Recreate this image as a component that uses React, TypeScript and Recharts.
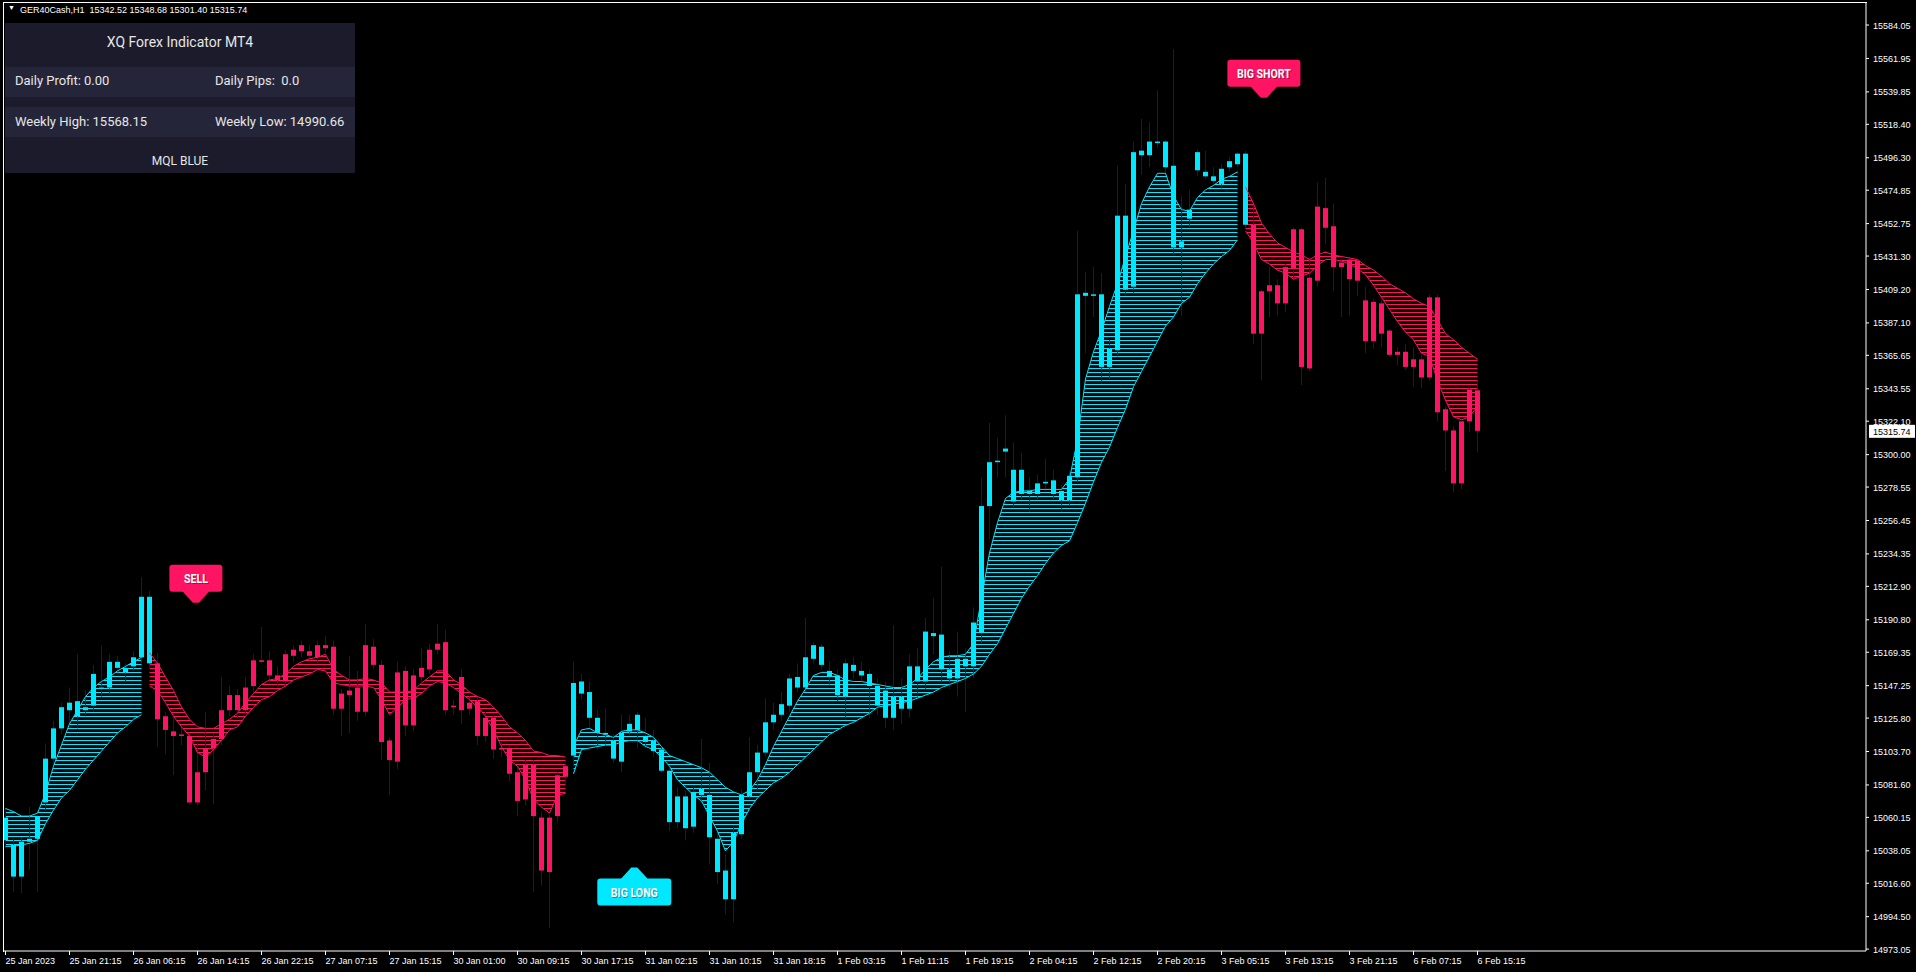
import React from 'react'
import { Area, Bar, ComposedChart, Line, ReferenceDot, ReferenceLine, XAxis, YAxis } from 'recharts'

// GER40Cash H1 candles, bar 0 = 25 Jan 2023, one bar per hour
const opens = [
  15060, 15042, 15021, 15044, 15046, 15070, 15099, 15119, 15131, 15137,
  15131, 15134, 15146, 15146, 15163, 15159, 15160, 15166, 15206, 15162,
  15127, 15117, 15115, 15114, 15070, 15090, 15106, 15112, 15131, 15141,
  15131, 15147, 15164, 15164, 15154, 15150, 15167, 15170, 15170, 15166,
  15174, 15173, 15132, 15144, 15130, 15130, 15173, 15161, 15111, 15097,
  15157, 15121, 15153, 15158, 15171, 15176, 15133, 15131, 15132, 15137,
  15114, 15126, 15106, 15106, 15090, 15072, 15095, 15060, 15024, 15061,
  15087, 15101, 15150, 15143, 15126, 15116, 15111, 15097, 15117, 15118,
  15114, 15111, 15105, 15091, 15057, 15074, 15054, 15079, 15075, 15046,
  15025, 15006, 15049, 15074, 15090, 15103, 15123, 15128, 15134, 15153,
  15146, 15165, 15173, 15157, 15154, 15140, 15161, 15157, 15155, 15147,
  15144, 15126, 15140, 15132, 15160, 15150, 15182, 15181, 15158, 15152,
  15165, 15160, 15182, 15266, 15295, 15302, 15290, 15274, 15276, 15274,
  15281, 15283, 15276, 15270, 15285, 15405, 15406, 15406, 15358, 15369,
  15458, 15411, 15501, 15498, 15507, 15507, 15491, 15437, 15456, 15488,
  15487, 15484, 15479, 15490, 15492, 15499, 15452, 15380, 15408, 15412,
  15400, 15423, 15449, 15357, 15415, 15463, 15451, 15424, 15429, 15415,
  15402, 15375, 15400, 15382, 15366, 15368, 15358, 15363, 15351, 15404,
  15330, 15316, 15281, 15322, 15342.52,
]
const highs = [
  15066, 15046, 15047, 15067, 15064, 15109, 15124, 15136, 15146, 15168,
  15144, 15161, 15174, 15168, 15167, 15162, 15170, 15219, 15210, 15169,
  15130, 15127, 15120, 15116, 15110, 15130, 15116, 15153, 15147, 15145,
  15153, 15168, 15186, 15170, 15160, 15171, 15174, 15177, 15174, 15177,
  15180, 15177, 15145, 15167, 15157, 15188, 15178, 15164, 15113, 15163,
  15160, 15158, 15172, 15175, 15188, 15184, 15138, 15158, 15140, 15140,
  15130, 15129, 15110, 15108, 15094, 15098, 15098, 15064, 15062, 15090,
  15096, 15163, 15155, 15150, 15131, 15132, 15115, 15128, 15128, 15130,
  15126, 15118, 15107, 15093, 15080, 15078, 15080, 15112, 15096, 15050,
  15036, 15055, 15079, 15113, 15108, 15139, 15136, 15143, 15155, 15162,
  15192, 15176, 15175, 15163, 15158, 15165, 15166, 15163, 15158, 15152,
  15150, 15187, 15152, 15168, 15172, 15192, 15205, 15226, 15170, 15183,
  15172, 15199, 15285, 15321, 15311, 15326, 15308, 15301, 15285, 15287,
  15297, 15290, 15280, 15289, 15448, 15421, 15424, 15420, 15376, 15491,
  15479, 15507, 15522, 15520, 15541, 15508, 15568.15, 15471, 15475, 15502,
  15501, 15490, 15492, 15497, 15500, 15501, 15465, 15409, 15424, 15416,
  15426, 15450, 15450, 15430, 15480, 15483, 15466, 15430, 15431, 15429,
  15411, 15403, 15402, 15383, 15371, 15373, 15371, 15366, 15406, 15406,
  15332, 15319, 15322, 15345, 15348.68,
]
const lows = [
  15040, 15011, 15010, 15026, 15011, 15065, 15095, 15115, 15121, 15119,
  15127, 15130, 15140, 15141, 15156, 15150, 15157, 15162, 15158, 15107,
  15102, 15088, 15108, 15069, 15068, 15078, 15069, 15108, 15127, 15126,
  15128, 15142, 15162, 15150, 15146, 15146, 15163, 15166, 15164, 15162,
  15169, 15128, 15114, 15116, 15124, 15127, 15158, 15098, 15075, 15092,
  15114, 15117, 15150, 15155, 15168, 15128, 15128, 15122, 15128, 15108,
  15110, 15099, 15100, 15084, 15061, 15068, 15011, 15015, 14987, 15057,
  15082, 15094, 15138, 15120, 15105, 15108, 15096, 15090, 15114, 15106,
  15106, 15100, 15090, 15051, 15053, 15045, 15050, 15070, 15029, 15016,
  14996, 14991, 15046, 15072, 15078, 15100, 15118, 15124, 15130, 15143,
  15143, 15162, 15158, 15148, 15137, 15125, 15152, 15150, 15126, 15128,
  15119, 15118, 15122, 15126, 15140, 15145, 15168, 15150, 15145, 15140,
  15130, 15152, 15175, 15244, 15285, 15285, 15265, 15270, 15262, 15270,
  15276, 15270, 15262, 15266, 15282, 15367, 15391, 15347, 15350, 15365,
  15405, 15406, 15485, 15490, 15503, 15485, 15432, 15392, 15450, 15484,
  15482, 15478, 15476, 15487, 15490, 15450, 15373, 15349, 15391, 15392,
  15394, 15416, 15346, 15355, 15411, 15439, 15408, 15391, 15392, 15405,
  15367, 15370, 15371, 15365, 15359, 15356, 15345, 15344, 15349, 15322,
  15289, 15275, 15277, 15315, 15301.4,
]
const closes = [
  15045, 15021, 15044, 15046, 15061, 15099, 15119, 15133, 15136, 15127,
  15133, 15155, 15145, 15163, 15159, 15156, 15166, 15206, 15162, 15125,
  15118, 15114, 15114, 15070, 15090, 15106, 15112, 15131, 15141, 15131,
  15146, 15164, 15163, 15154, 15151, 15168, 15171, 15174, 15167, 15174,
  15172, 15132, 15142, 15141, 15146, 15174, 15161, 15110, 15098, 15156,
  15121, 15154, 15159, 15171, 15175, 15131, 15134, 15153, 15136, 15114,
  15126, 15105, 15105, 15089, 15071, 15095, 15061, 15025, 15060, 15088,
  15094, 15149, 15142, 15126, 15116, 15115, 15099, 15116, 15122, 15128,
  15110, 15104, 15091, 15057, 15074, 15053, 15077, 15075, 15047, 15024,
  15006, 15050, 15075, 15090, 15103, 15123, 15128, 15135, 15152, 15146,
  15166, 15174, 15161, 15153, 15141, 15162, 15157, 15154, 15147, 15134,
  15126, 15140, 15132, 15160, 15150, 15183, 15180, 15158, 15152, 15165,
  15160, 15189, 15266, 15295, 15296, 15304, 15269, 15290, 15274, 15281,
  15282, 15274, 15270, 15286, 15406, 15407, 15405, 15358, 15370, 15458,
  15409, 15500, 15498, 15507, 15506, 15490, 15437, 15441, 15462, 15500,
  15484, 15481, 15489, 15494, 15499, 15452, 15380, 15408, 15412, 15400,
  15424, 15449, 15358, 15417, 15464, 15450, 15424, 15427, 15416, 15428,
  15375, 15401, 15380, 15366, 15368, 15358, 15363, 15351, 15404, 15328,
  15316, 15281, 15322, 15343, 15315.74,
]

// ribbon envelope (outermost MA lines) read per bar
const ribbonHi = [
  15066, 15064, 15061, 15061, 15063, 15076, 15094, 15108, 15122, 15131,
  15140, 15146, 15150, 15153, 15157, 15160, 15163, 15166, 15169, 15162,
  15153, 15144, 15133, 15125, 15120, 15119, 15119, 15122, 15125, 15129,
  15136, 15142, 15148, 15151, 15152, 15155, 15160, 15163, 15165, 15166,
  15168, 15158, 15154, 15151, 15151, 15152, 15151, 15149, 15143, 15143,
  15143, 15144, 15149, 15153, 15157, 15157, 15151, 15148, 15143, 15140,
  15138, 15133, 15127, 15120, 15116, 15111, 15104, 15103, 15101, 15101,
  15100, 15107, 15118, 15119, 15116, 15115, 15113, 15117, 15118, 15118,
  15116, 15113, 15107, 15101, 15099, 15097, 15095, 15093, 15090, 15085,
  15080, 15077, 15075, 15078, 15085, 15095, 15107, 15117, 15127, 15137,
  15145, 15154, 15156, 15156, 15154, 15151, 15150, 15150, 15149, 15148,
  15147, 15146, 15146, 15148, 15152, 15158, 15163, 15166, 15167, 15167,
  15168, 15175, 15205, 15235, 15255, 15271, 15275, 15276, 15276, 15277,
  15277, 15277, 15277, 15284, 15310, 15350, 15368, 15382, 15398, 15413,
  15431, 15448, 15466, 15477, 15486, 15486, 15471, 15462, 15461, 15470,
  15475, 15478, 15482, 15484, 15487, 15477, 15466, 15453, 15446, 15440,
  15437, 15434, 15432, 15429, 15432, 15434, 15432, 15431, 15430, 15429,
  15425, 15422, 15418, 15413, 15410, 15407, 15403, 15400, 15398, 15389,
  15380, 15376, 15371, 15367, 15363,
]
const ribbonLo = [
  15041, 15041, 15042, 15043, 15045, 15056, 15065, 15073, 15078, 15085,
  15092, 15098, 15104, 15110, 15116, 15120, 15125, 15128, 15147, 15144,
  15136, 15127, 15120, 15114, 15103, 15100, 15105, 15111, 15118, 15120,
  15127, 15133, 15138, 15140, 15144, 15147, 15151, 15153, 15155, 15158,
  15157, 15149, 15148, 15147, 15147, 15147, 15146, 15138, 15128, 15133,
  15138, 15139, 15142, 15147, 15150, 15149, 15146, 15142, 15138, 15133,
  15127, 15118, 15107, 15098, 15094, 15085, 15072, 15067, 15063, 15075,
  15076, 15089, 15105, 15106, 15107, 15108, 15108, 15110, 15111, 15111,
  15107, 15105, 15100, 15094, 15085, 15080, 15075, 15071, 15061, 15051,
  15038, 15044, 15056, 15066, 15073, 15078, 15083, 15086, 15090, 15095,
  15100, 15105, 15110, 15115, 15118, 15121, 15123, 15126, 15129, 15133,
  15134, 15135, 15136, 15137, 15139, 15141, 15143, 15146, 15148, 15150,
  15152, 15155, 15160, 15168, 15175, 15185, 15195, 15205, 15213, 15220,
  15228, 15235, 15240, 15243, 15255, 15268, 15282, 15295, 15305, 15318,
  15330, 15345, 15355, 15365, 15375, 15385, 15391, 15400, 15404, 15413,
  15420, 15426, 15431, 15435, 15442, 15448, 15440, 15429, 15426, 15422,
  15420, 15416, 15418, 15420, 15425, 15429, 15429, 15428, 15426, 15423,
  15419, 15412, 15404, 15396, 15388, 15381, 15376, 15367, 15365, 15349,
  15336, 15325, 15323, 15325, 15332,
]

// trend segments: first bar of each segment
const trendDirs = ['up', 'down', 'up', 'down']
const candleTrendStarts = [0, 19, 71, 156]
const ribbonTrendStarts = [0, 18, 71, 155]

const timeTicks = [0, 8, 16, 24, 32, 40, 48, 56, 64, 72, 80, 88, 96, 104, 112, 120, 128, 136, 144, 152, 160, 168, 176, 184]
const timeLabels = [
  '25 Jan 2023', '25 Jan 21:15', '26 Jan 06:15', '26 Jan 14:15', '26 Jan 22:15', '27 Jan 07:15',
  '27 Jan 15:15', '30 Jan 01:00', '30 Jan 09:15', '30 Jan 17:15', '31 Jan 02:15', '31 Jan 10:15',
  '31 Jan 18:15', '1 Feb 03:15', '1 Feb 11:15', '1 Feb 19:15', '2 Feb 04:15', '2 Feb 12:15',
  '2 Feb 20:15', '3 Feb 05:15', '3 Feb 13:15', '3 Feb 21:15', '6 Feb 07:15', '6 Feb 15:15',
]
const priceTicks = [
  '15584.05', '15561.95', '15539.85', '15518.40', '15496.30', '15474.85', '15452.75', '15431.30',
  '15409.20', '15387.10', '15365.65', '15343.55', '15322.10', '15300.00', '15278.55', '15256.45',
  '15234.35', '15212.90', '15190.80', '15169.35', '15147.25', '15125.80', '15103.70', '15081.60',
  '15060.15', '15038.05', '15016.60', '14994.50', '14973.05',
]

const signalText = ['SELL', 'BIG LONG', 'BIG SHORT']
const signalBar = [23.8, 78.6, 157.3]
const signalPrice = [15202, 15027, 15536]
const signalDir = ['down', 'up', 'down']

const CYAN = '#00e8ff'
const PINK = '#ff1464'
const WICK = '#10108c'
const AXIS_FONT = '"Liberation Sans", Arial, sans-serif'

const dirAt = (starts: number[], i: number) => {
  let d = trendDirs[0]
  starts.forEach((s, n) => { if (i >= s) d = trendDirs[n] })
  return d
}

const rows = closes.map((c, i) => {
  const rd = dirAt(ribbonTrendStarts, i)
  return {
    i,
    open: opens[i],
    high: highs[i],
    low: lows[i],
    close: c,
    up: dirAt(candleTrendStarts, i) === 'up',
    range: [lows[i], highs[i]],
    bandUp: rd === 'up' ? [ribbonLo[i], ribbonHi[i]] : null,
    bandDown: rd === 'down' ? [ribbonLo[i], ribbonHi[i]] : null,
    hiUp: rd === 'up' ? ribbonHi[i] : null,
    loUp: rd === 'up' ? ribbonLo[i] : null,
    hiDown: rd === 'down' ? ribbonHi[i] : null,
    loDown: rd === 'down' ? ribbonLo[i] : null,
  }
})

const Candle = (props: any) => {
  const { x, y, width, height, payload } = props
  const cx = x + width / 2
  const span = payload.high - payload.low
  const k = span > 0 ? height / span : 0
  const yOf = (v: number) => y + (payload.high - v) * k
  const top = yOf(Math.max(payload.open, payload.close))
  const bot = yOf(Math.min(payload.open, payload.close))
  return (
    <g>
      <line x1={cx} x2={cx} y1={y} y2={y + height} stroke={WICK} strokeWidth={1} />
      <rect x={cx - 2.5} y={top} width={5} height={Math.max(1, bot - top)} fill={payload.up ? CYAN : PINK} />
    </g>
  )
}

const boxSize: Record<string, { w: number; tw: number }> = {
  SELL: { w: 53, tw: 24 },
  'BIG LONG': { w: 74, tw: 47 },
  'BIG SHORT': { w: 73, tw: 54 },
}

const Signal = (props: any) => {
  const { cx, cy, text, dir } = props
  const { w, tw } = boxSize[text]
  const h = 27
  const gap = 11
  const color = dir === 'up' ? CYAN : PINK
  const top = dir === 'down' ? cy - gap - h : cy + gap
  const base = dir === 'down' ? top + h - 1 : top + 1
  const ptr = `M${cx - 14},${base} L${cx - 3},${cy} L${cx + 3},${cy} L${cx + 14},${base} Z`
  const ty = top + h / 2 + 4.5
  const font = { fontFamily: 'Roboto, sans-serif', fontWeight: 700, fontSize: 12 }
  return (
    <g>
      <rect x={cx - w / 2} y={top} width={w} height={h} rx={3} fill={color} />
      <path d={ptr} fill={color} />
      <text x={cx + 1} y={ty + 1} textAnchor="middle" fill="rgba(0,0,0,0.35)" textLength={tw} lengthAdjust="spacingAndGlyphs" {...font}>{text}</text>
      <text x={cx} y={ty} textAnchor="middle" fill="#fff" textLength={tw} lengthAdjust="spacingAndGlyphs" {...font}>{text}</text>
    </g>
  )
}

const TimeTick = (props: any) => {
  const { x, y, payload } = props
  const label = timeLabels[timeTicks.indexOf(payload.value)]
  return (
    <g>
      <line x1={x} x2={x} y1={y} y2={y + 4} stroke="#fff" />
      <text x={x} y={y + 13} fill="#fff" fontSize={9} fontFamily={AXIS_FONT}>{label}</text>
    </g>
  )
}

const PriceTick = (props: any) => {
  const { x, y, payload } = props
  const label = priceTicks.find((t) => Number(t) === payload.value) ?? String(payload.value)
  return (
    <g>
      <line x1={x} x2={x + 3} y1={y} y2={y} stroke="#fff" />
      <text x={x + 7} y={y + 3.5} fill="#fff" fontSize={9} fontFamily={AXIS_FONT}>{label}</text>
    </g>
  )
}

const PriceTag = (props: any) => {
  const { viewBox } = props
  const x = viewBox.x + viewBox.width + 3
  const y = viewBox.y
  return (
    <g>
      <rect x={x} y={y - 6} width={46} height={13} fill="#fff" />
      <text x={x + 4} y={y + 4} fill="#000" fontSize={9} fontFamily={AXIS_FONT}>{closes[closes.length - 1].toFixed(2)}</text>
    </g>
  )
}

const panelText: React.CSSProperties = { position: 'absolute', whiteSpace: 'pre', color: '#e6e6e6', fontFamily: 'Roboto, sans-serif', fontSize: 13, lineHeight: '16px' }

export default function App() {
  return (
    <div style={{ position: 'relative', width: 1916, height: 972, background: '#000', overflow: 'hidden' }}>
      <style>{'body{margin:0;background:#000}'}</style>
      <ComposedChart width={1916} height={972} data={rows} margin={{ top: 2, right: 0, bottom: 0, left: 3 }}>
        <XAxis
          dataKey="i"
          type="number"
          domain={[-0.3125, 232.5625]}
          allowDataOverflow
          ticks={timeTicks}
          interval={0}
          height={21}
          tickSize={0}
          tickMargin={0}
          tickLine={false}
          axisLine={{ stroke: '#fff' }}
          tick={<TimeTick />}
        />
        <YAxis
          orientation="right"
          type="number"
          domain={[14971.8, 15599.28]}
          allowDataOverflow
          ticks={priceTicks.map(Number)}
          interval={0}
          width={50}
          tickSize={0}
          tickMargin={0}
          tickLine={false}
          axisLine={{ stroke: '#fff' }}
          tick={<PriceTick />}
        />
        <Bar dataKey="range" barSize={4} shape={<Candle />} isAnimationActive={false} />
        <defs>
          <pattern id="ribUp" width="8" height="4" patternUnits="userSpaceOnUse">
            <rect width="8" height="1" fill={CYAN} />
          </pattern>
          <pattern id="ribDown" width="8" height="4" patternUnits="userSpaceOnUse">
            <rect width="8" height="1" fill={PINK} />
          </pattern>
        </defs>
        <Area dataKey="bandUp" type="linear" stroke="none" fill="url(#ribUp)" fillOpacity={1} connectNulls={false} isAnimationActive={false} />
        <Area dataKey="bandDown" type="linear" stroke="none" fill="url(#ribDown)" fillOpacity={1} connectNulls={false} isAnimationActive={false} />
        <Line dataKey="hiUp" type="linear" stroke={CYAN} strokeWidth={1} dot={false} isAnimationActive={false} />
        <Line dataKey="loUp" type="linear" stroke={CYAN} strokeWidth={1} dot={false} isAnimationActive={false} />
        <Line dataKey="hiDown" type="linear" stroke={PINK} strokeWidth={1} dot={false} isAnimationActive={false} />
        <Line dataKey="loDown" type="linear" stroke={PINK} strokeWidth={1} dot={false} isAnimationActive={false} />
        {signalText.map((t, n) => (
          <ReferenceDot
            key={t}
            x={signalBar[n]}
            y={signalPrice[n]}
            ifOverflow="visible"
            shape={(p: any) => <Signal {...p} text={t} dir={signalDir[n]} />}
          />
        ))}
        <ReferenceLine y={closes[closes.length - 1]} stroke="none" label={<PriceTag />} />
      </ComposedChart>

      <div style={{ position: 'absolute', left: 3, top: 2, width: 1863, height: 949, borderLeft: '1px solid #fff', borderTop: '1px solid #fff', pointerEvents: 'none' }} />

      <div style={{ position: 'absolute', left: 8, top: 4, color: '#fff', fontSize: 7, fontFamily: AXIS_FONT }}>▼</div>
      <div style={{ position: 'absolute', left: 20, top: 4, color: '#fff', fontSize: 9, fontFamily: AXIS_FONT, whiteSpace: 'pre', lineHeight: '12px' }}>
        {'GER40Cash,H1  15342.52 15348.68 15301.40 15315.74'}
      </div>

      <div style={{ position: 'absolute', left: 5, top: 23, width: 350, height: 150, background: '#1b1b2b' }}>
        <div style={{ position: 'absolute', left: 0, top: 44, width: 350, height: 30, background: '#25253a' }} />
        <div style={{ position: 'absolute', left: 0, top: 84, width: 350, height: 30, background: '#25253a' }} />
        <div style={{ ...panelText, left: 0, width: 350, textAlign: 'center', top: 10, fontSize: 14, lineHeight: '18px' }}>XQ Forex Indicator MT4</div>
        <div style={{ ...panelText, left: 10, top: 50 }}>Daily Profit: 0.00</div>
        <div style={{ ...panelText, left: 210, top: 50 }}>Daily Pips:  0.0</div>
        <div style={{ ...panelText, left: 10, top: 91 }}>Weekly High: 15568.15</div>
        <div style={{ ...panelText, left: 210, top: 91 }}>Weekly Low: 14990.66</div>
        <div style={{ ...panelText, left: 0, width: 350, textAlign: 'center', top: 130, fontSize: 12 }}>MQL BLUE</div>
      </div>
    </div>
  )
}
